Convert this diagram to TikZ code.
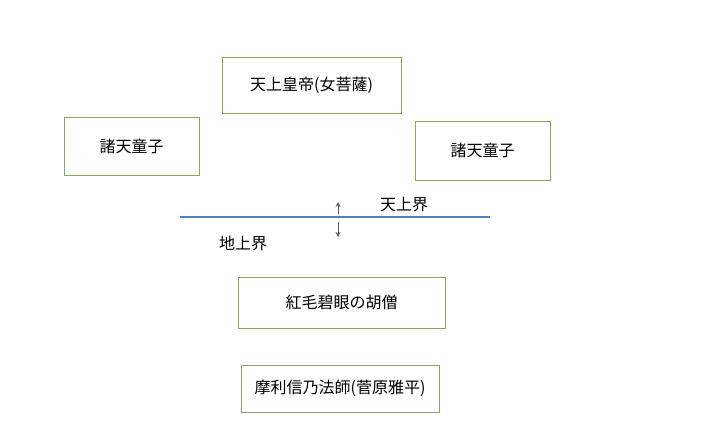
\documentclass[tikz,border=0pt]{standalone}
\usepackage{fontspec}
\setmainfont{Noto Sans CJK JP}
\definecolor{rahmen}{HTML}{8AA65A}
\definecolor{grenze}{HTML}{4F81BD}

\begin{document}
\begin{tikzpicture}[x=0.75pt, y=-0.75pt, >=stealth,
    kasten/.style={draw=rahmen, line width=0.6pt, fill=white, inner sep=0pt,
        font=\fontsize{12}{14}\selectfont}]
    % Rand
    \useasboundingbox (0,0) rectangle (705,437);

    % Himmel
    \node[kasten, minimum width=134.25pt, minimum height=42pt] (kaiser) at (311.5,85) {天上皇帝(女菩薩)};
    \node[kasten, minimum width=101.25pt, minimum height=43.5pt] (dojiL) at (131.5,146) {諸天童子};
    \node[kasten, minimum width=101.25pt, minimum height=44.25pt] (dojiR) at (482.5,150.5) {諸天童子};

    % Grenzlinie
    \coordinate (gL) at (180,217);
    \coordinate (gR) at (490,217);
    \draw[grenze, line width=2.2pt] (gL) -- (gR);

    % Pfeile
    \coordinate (obenA) at (338,214);
    \coordinate (obenB) at (338,202);
    \coordinate (untenA) at (338,222);
    \coordinate (untenB) at (338,237);
    \draw[->, gray!70!black, line width=0.7pt] (obenA) -- (obenB);
    \draw[->, gray!70!black, line width=0.7pt] (untenA) -- (untenB);

    \node[font=\fontsize{12}{14}\selectfont] (tenjo) at (404,205) {天上界};
    \node[font=\fontsize{12}{14}\selectfont] (chijo) at (243,243) {地上界};

    % Erde
    \node[kasten, minimum width=155.25pt, minimum height=38.25pt] (koso) at (341.5,302.5) {紅毛碧眼の胡僧};
    \node[kasten, minimum width=148.5pt, minimum height=35.25pt] (hoshi) at (340,388.5) {摩利信乃法師(菅原雅平)};
\end{tikzpicture}
\end{document}
